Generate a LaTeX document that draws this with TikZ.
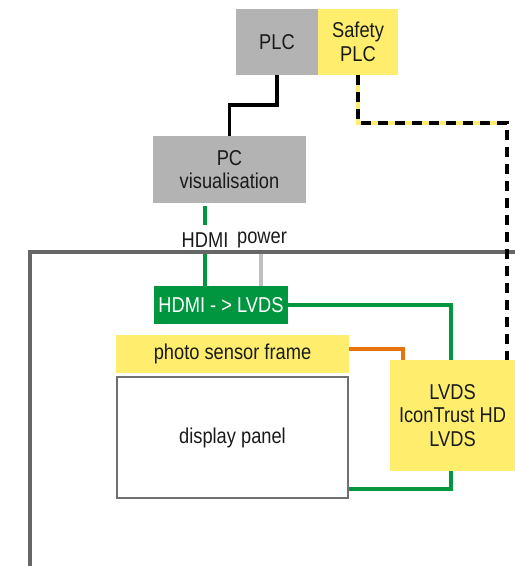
\documentclass[tikz,border=0pt]{standalone}
\usepackage{fontspec}
\setmainfont[FakeStretch=0.85]{Liberation Sans}
\usetikzlibrary{calc}
\definecolor{boxgray}{HTML}{B3B3B3}
\definecolor{boxyellow}{HTML}{FFEE6E}
\definecolor{convgreen}{HTML}{009640}
\definecolor{wireorange}{HTML}{E8730F}
\definecolor{framegray}{HTML}{666666}
\definecolor{panelgray}{HTML}{707070}
\definecolor{powergray}{HTML}{C0C0C0}
\definecolor{txt}{HTML}{1A1A1A}
\begin{document}
\begin{tikzpicture}[x=1pt,y=-1pt,
  every node/.style={font=\fontsize{21.5}{23.5}\selectfont, text=txt, align=center, inner sep=0pt},
  graybox/.style={fill=boxgray},
  yellowbox/.style={fill=boxyellow},
  wire/.style={line width=4pt},
  lbl/.style={fill=none}
]
\useasboundingbox[fill=white] (0,0) rectangle (515,566);

% nodes
\node[graybox, minimum width=82pt, minimum height=66pt] (plc) at (277,42) {PLC};
\node[yellowbox, minimum width=80pt, minimum height=66pt] (safety) at (358,42) {Safety\\PLC};
\node[graybox, minimum width=153pt, minimum height=67pt] (pc) at (229.5,169.5) {PC\\visualisation};
\node[lbl] (hdmilbl) at (205,240) {HDMI};
\node[lbl] (powerlbl) at (262,240) {power};

% frame
\draw[line width=4.5pt, framegray] (515,252) -- (30,252) -- (30,566);

\node[fill=convgreen, text=white, minimum width=134pt, minimum height=38pt] (conv) at (221,305) {HDMI - > LVDS};
\node[yellowbox, minimum width=233pt, minimum height=38pt] (sensor) at (232.5,354) {photo sensor frame};
\node[draw=panelgray, line width=2pt, fill=white, minimum width=231pt, minimum height=121pt] (panel) at (232.5,437.5) {display panel};
\node[yellowbox, minimum width=125pt, minimum height=111pt] (lvds) at (452.5,415.5) {LVDS\\IconTrust HD\\LVDS};

% connectors
\draw[wire, line width=3.5pt, black] (plc.south) -- ++(0,30) -| (pc.north);
\coordinate (sc) at (507,123);
\draw[line width=4pt, boxyellow] (safety.south) |- (sc);
\draw[line width=4pt, black, dash pattern=on 10pt off 7pt] (safety.south) |- (sc) -- (sc |- lvds.north);
\draw[wire, convgreen] (pc.south -| hdmilbl) ++(0,3) -- (205,225);
\draw[wire, convgreen] (205,254) -- (hdmilbl.south |- conv.north);
\draw[wire, powergray] (261,254) -- (261,286);
\draw[wire, convgreen] (conv.east) -| ([xshift=-1.5pt]lvds.north);
\draw[wire, wireorange] ([yshift=5pt]sensor.east) -| ([xshift=-49.5pt]lvds.north);
\draw[wire, convgreen] ([yshift=10pt]panel.south east) -| ([xshift=-1.5pt]lvds.south);
\end{tikzpicture}
\end{document}
